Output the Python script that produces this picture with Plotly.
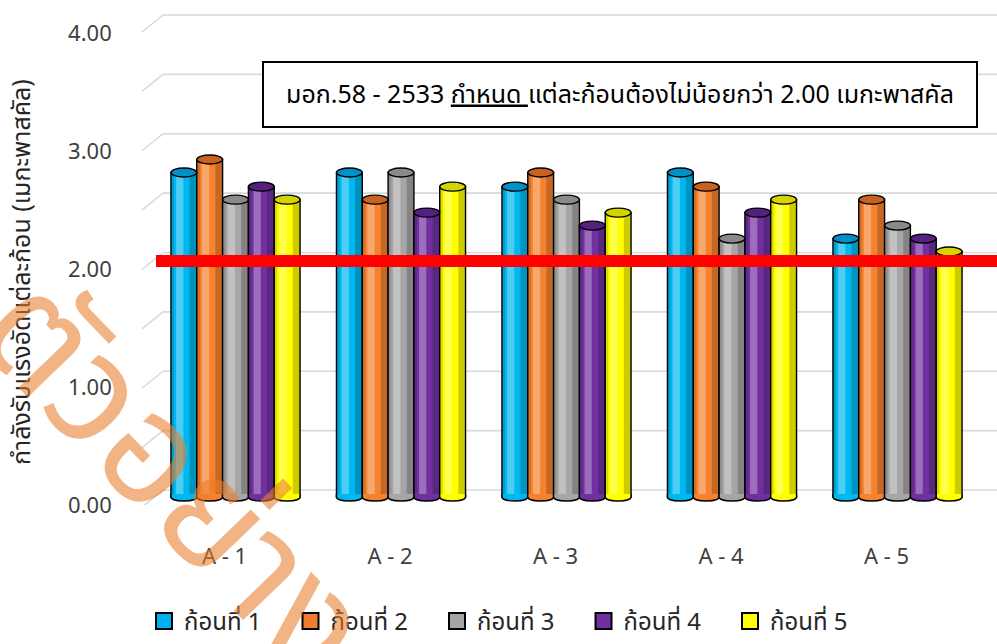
import plotly.graph_objects as go

# ---- data -------------------------------------------------------------
CATEGORIES = ["A - 1", "A - 2", "A - 3", "A - 4", "A - 5"]
SERIES_NAMES = ["ก้อนที่ 1", "ก้อนที่ 2", "ก้อนที่ 3", "ก้อนที่ 4", "ก้อนที่ 5"]

# compressive strength of each block (MPa), one list per block number
BLOCK_1 = [2.75, 2.75, 2.63, 2.75, 2.19]
BLOCK_2 = [2.86, 2.52, 2.75, 2.63, 2.52]
BLOCK_3 = [2.52, 2.75, 2.52, 2.19, 2.30]
BLOCK_4 = [2.63, 2.41, 2.30, 2.41, 2.19]
BLOCK_5 = [2.52, 2.63, 2.41, 2.52, 2.08]

STANDARD_MIN = 2.00          # TIS 58-2533 minimum per block
Y_TICKS = [0, 1, 2, 3, 4]
GRID_VALUES = [0, 0.5, 1, 1.5, 2, 2.5, 3, 3.5, 4]

NOTE_TEXT = "มอก.58 - 2533 <u>กำหนด </u>แต่ละก้อนต้องไม่น้อยกว่า 2.00 เมกะพาสคัล"
Y_TITLE = "กำลังรับแรงอัดแต่ละก้อน (เมกะพาสคัล)"
WATERMARK = "ตัวอย่าง"

# ---- styling ----------------------------------------------------------
W, H = 997, 644
FONT = "Noto Sans Thai, Leelawadee UI, Tahoma, Noto Sans, sans-serif"
BODY = ["#00B8F0", "#F5822F", "#A6A6A6", "#7030A0", "#FFFF00"]
LEGEND_FILL = ["#00B0F0", "#ED7D31", "#A5A5A5", "#7030A0", "#FFFF00"]
CAP = ["#0090C8", "#C8621E", "#8A8A8A", "#552080", "#D4D400"]
GRID = "#D9D9D9"

series = [BLOCK_1, BLOCK_2, BLOCK_3, BLOCK_4, BLOCK_5]
xs = list(range(len(CATEGORIES)))

BAR_W = 0.156
GROUP_START = -2.5 * BAR_W

# pixel geometry of the plotting area
PLOT_TOP, PLOT_BOTTOM = 10, 505
X_LEFT, CAT_PX = 152.75, 165.5
Y0_FRONT, PX_FRONT = 497, 118.0     # bar scale
Y0_BACK, PX_BACK = 490, 118.75      # back-wall grid scale

x_range = [-0.5, -0.5 + (W - X_LEFT) / CAT_PX]
y_range = [(Y0_FRONT - PLOT_BOTTOM) / PX_FRONT, (Y0_FRONT - PLOT_TOP) / PX_FRONT]
y2_range = [(Y0_BACK - PLOT_BOTTOM) / PX_BACK, (Y0_BACK - PLOT_TOP) / PX_BACK]

fig = go.Figure()

# cylinder bodies
for i, (vals, name) in enumerate(zip(series, SERIES_NAMES)):
    off = GROUP_START + i * BAR_W
    fig.add_trace(go.Bar(
        x=xs, y=vals, name=name, offset=off, width=BAR_W,
        marker=dict(color=BODY[i], line=dict(color="#000000", width=1.4)),
        showlegend=False, hoverinfo="y",
    ))

# cylinder shading strips
for i, vals in enumerate(series):
    off = GROUP_START + i * BAR_W
    for frac0, frac_w, col in [(0.0, 0.12, "rgba(0,0,0,0.14)"),
                               (0.20, 0.28, "rgba(255,255,255,0.30)"),
                               (0.72, 0.28, "rgba(0,0,0,0.20)")]:
        fig.add_trace(go.Bar(
            x=xs, y=vals, offset=off + frac0 * BAR_W, width=frac_w * BAR_W,
            marker=dict(color=col, line=dict(width=0)),
            showlegend=False, hoverinfo="skip",
        ))

# legend entries
for i, name in enumerate(SERIES_NAMES):
    fig.add_trace(go.Scatter(
        x=[None], y=[None], mode="markers", name=name,
        marker=dict(symbol="square", size=16, color=LEGEND_FILL[i],
                    line=dict(color="#000000", width=2)),
    ))

# empty trace that carries the back-wall axis
fig.add_trace(go.Scatter(x=[], y=[], yaxis="y2", showlegend=False, hoverinfo="skip"))

shapes = []
# back-wall gridlines with their slanted side-wall piece
for v in GRID_VALUES:
    shapes.append(dict(type="line", xref="paper", yref="y2", x0=163 / W, x1=1,
                       y0=v, y1=v, line=dict(color=GRID, width=1.6), layer="below"))
    shapes.append(dict(type="line", xref="paper", yref="y2", ysizemode="pixel",
                       yanchor=v, x0=142 / W, x1=163 / W, y0=-17, y1=0,
                       line=dict(color=GRID, width=1.6), layer="below"))

# rounded bottoms and elliptical tops of the cylinders
for i, vals in enumerate(series):
    off = GROUP_START + i * BAR_W
    for x, v in zip(xs, vals):
        xa, xb = x + off, x + off + BAR_W
        shapes.append(dict(type="path", xref="x", yref="y", ysizemode="pixel", yanchor=0,
                           path=f"M{xa},3 L{xa},0 C{xa},-5.3 {xb},-5.3 {xb},0 L{xb},3",
                           fillcolor=BODY[i], line=dict(color="#000000", width=1.4)))
        shapes.append(dict(type="circle", xref="x", yref="y", ysizemode="pixel", yanchor=v,
                           x0=xa, x1=xb, y0=-4.5, y1=4.5,
                           fillcolor=CAP[i], line=dict(color="#000000", width=1.4)))

# standard minimum line
shapes.append(dict(type="line", xref="paper", yref="y", x0=156 / W, x1=1,
                   y0=STANDARD_MIN, y1=STANDARD_MIN,
                   line=dict(color="#FF0000", width=12)))

annotations = [
    dict(text=NOTE_TEXT, xref="paper", yref="paper", x=620 / W, y=1 - 94.5 / H,
         xanchor="center", yanchor="middle", showarrow=False,
         font=dict(family=FONT, size=25, color="#000000"),
         bordercolor="#000000", borderwidth=2, borderpad=3,
         width=706, height=57, bgcolor="#FFFFFF"),
    dict(text=Y_TITLE, xref="paper", yref="paper", x=22 / W, y=1 - 272 / H,
         xanchor="center", yanchor="middle", textangle=-90, showarrow=False,
         font=dict(family=FONT, size=25, color="#262626")),
    dict(text=WATERMARK, xref="paper", yref="paper", x=172 / W, y=1 - 480 / H,
         xanchor="center", yanchor="middle", textangle=46, showarrow=False,
         font=dict(family=FONT, size=150, color="rgba(232,125,45,0.58)")),
]

fig.update_layout(
    width=W, height=H,
    margin=dict(l=0, r=0, t=0, b=0, autoexpand=False),
    paper_bgcolor="#FFFFFF", plot_bgcolor="rgba(0,0,0,0)",
    barmode="overlay",
    font=dict(family=FONT, color="#404040"),
    xaxis=dict(domain=[X_LEFT / W, 1], range=x_range, tickvals=xs, ticktext=CATEGORIES,
               showgrid=False, zeroline=False, showline=False, ticks="",
               tickfont=dict(size=22, color="#404040"),
               ticklabelstandoff=36, ticklabelshift=-11, automargin=False),
    yaxis=dict(domain=[1 - PLOT_BOTTOM / H, 1 - PLOT_TOP / H], range=y_range,
               tickvals=Y_TICKS, tickformat=".2f", showgrid=False, zeroline=False,
               showline=False, ticks="", tickfont=dict(size=22, color="#404040"),
               ticklabelstandoff=40, ticklabelshift=8, automargin=False),
    yaxis2=dict(overlaying="y", range=y2_range, visible=False, showgrid=False),
    legend=dict(orientation="h", x=144 / W, y=0, xanchor="left", yanchor="bottom",
                font=dict(size=24, color="#262626", family=FONT),
                itemsizing="trace", entrywidth=101.5, entrywidthmode="pixels",
                bgcolor="rgba(0,0,0,0)"),
    shapes=shapes,
    annotations=annotations,
)

fig.write_html("out.html")
